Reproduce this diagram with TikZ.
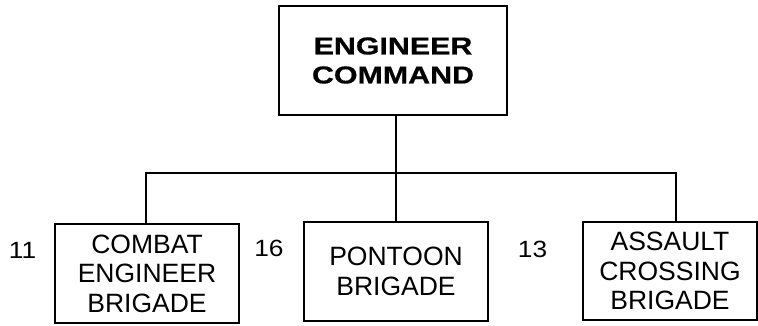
\documentclass[tikz,border=0pt]{standalone}
\usepackage{fontspec}
\setmainfont{Liberation Sans}
\newfontfamily\topfont[FakeStretch=1.24,FakeBold=0.6]{Liberation Sans}
\newfontfamily\numfont[FakeStretch=1.12]{Liberation Sans}
\begin{document}
\begin{tikzpicture}[x=1pt,y=1pt,
  box/.style={draw, line width=1.6pt, inner sep=0pt, align=center},
  topbox/.style={box, minimum width=228pt, minimum height=109pt,
    font=\topfont\bfseries\fontsize{24.5}{29}\selectfont},
  unit/.style={box, minimum height=99pt,
    font=\fontsize{26.5}{29.5}\selectfont},
  num/.style={inner sep=0pt, font=\numfont\fontsize{23.5}{27}\selectfont},
  link/.style={line width=1.6pt}]
\useasboundingbox (0,0) rectangle (758,325);
\node[topbox] (top) at (393,264.5) {ENGINEER\\COMMAND};
\node[unit, minimum width=184pt] (b1) at (147,51.5) {COMBAT\\ENGINEER\\BRIGADE};
\node[unit, minimum width=184pt] (b2) at (396,53.5) {PONTOON\\BRIGADE};
\node[unit, minimum width=174pt, minimum height=98pt] (b3) at (670,54) {ASSAULT\\CROSSING\\BRIGADE};
\node[num] (n11) at (22.5,75) {11};
\node[num] (n16) at (269,77) {16};
\node[num] (n13) at (532.5,76) {13};
\coordinate (bus) at (396,152);
\draw[link] ([xshift=3pt]top.south) -- (bus);
\draw[link] ([xshift=-1pt]b1.north) |- ([xshift=6pt]b3.north |- bus) -- ([xshift=6pt]b3.north);
\draw[link] (bus) -- (b2.north);
\end{tikzpicture}
\end{document}
